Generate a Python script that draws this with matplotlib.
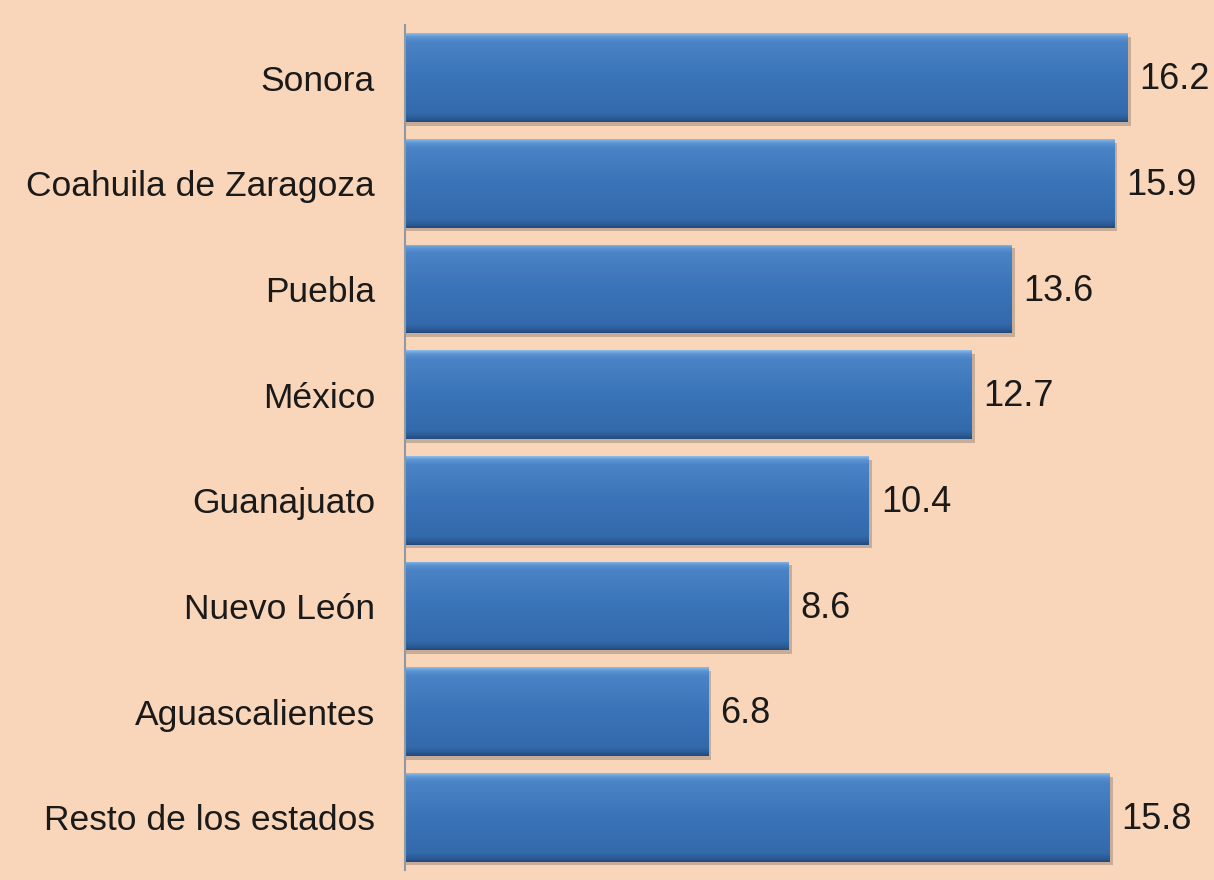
import numpy as np
import matplotlib
matplotlib.use("Agg")
import matplotlib.pyplot as plt
from matplotlib.colors import LinearSegmentedColormap

states = ["Sonora", "Coahuila de Zaragoza", "Puebla", "México", "Guanajuato",
          "Nuevo León", "Aguascalientes", "Resto de los estados"]
values = [16.2, 15.9, 13.6, 12.7, 10.4, 8.6, 6.8, 15.8]

BG = "#F9D6B9"
plt.rcParams["font.family"] = ["Liberation Sans", "DejaVu Sans"]

fig = plt.figure(figsize=(12.14, 8.8), dpi=100, facecolor=BG)
ax = fig.add_axes([405 / 1214, 10 / 880, 809 / 1214, 845 / 880])
ax.set_facecolor(BG)

ypos = np.arange(len(states))
h = 0.84
bars = ax.barh(ypos, values, height=h, color="#3A73B7", edgecolor="none", zorder=2)

# vertical gradient: light top edge, darker bottom edge (bevel look)
bevel = LinearSegmentedColormap.from_list(
    "bevel",
    [(0.0, "#8EBCEB"), (0.04, "#5E95D3"), (0.10, "#4A84C6"),
     (0.5, "#3A74B8"), (0.90, "#336AAC"), (0.96, "#2B5B95"), (1.0, "#25497A")])
grad = np.linspace(0, 1, 256).reshape(-1, 1)

for y, v, p in zip(ypos, values, bars):
    # drop shadow
    ax.barh(y + 0.035, v + 0.05, height=h, left=0.02, color="#8a7a70", alpha=0.45,
            edgecolor="none", zorder=1)
    im = ax.imshow(grad, cmap=bevel, aspect="auto", extent=(0, v, y + h / 2, y - h / 2),
                   zorder=3, interpolation="bilinear")
    im.set_clip_path(p)
    ax.text(v + 0.27, y + 0.02, f"{v}", va="center", ha="left", fontsize=26, color="#1a1a1a")

ax.set_xlim(0, 18.14)
ax.set_ylim(len(states) - 0.5, -0.5)
ax.set_yticks(ypos)
ax.set_yticklabels(states, fontsize=25.5, color="#1a1a1a")
ax.tick_params(axis="y", length=0, pad=21.5)
ax.set_xticks([])
for side in ["top", "right", "bottom"]:
    ax.spines[side].set_visible(False)
ax.spines["left"].set_color("#8E99A8")
ax.spines["left"].set_linewidth(1.5)
ax.spines["left"].set_zorder(4)

fig.savefig("out.png", dpi=100, facecolor=BG)
